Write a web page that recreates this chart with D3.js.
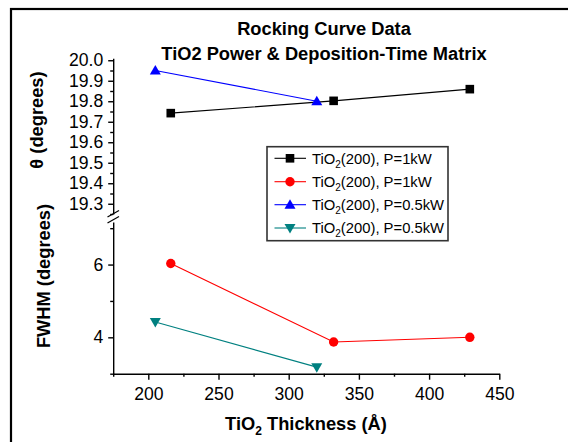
<!DOCTYPE html>
<html>
<head>
<meta charset="utf-8">
<script src="https://cdn.jsdelivr.net/npm/d3@7/dist/d3.min.js"></script>
<style>
  html, body { margin: 0; padding: 0; background: #fff; }
  svg { display: block; font-family: "Liberation Sans", Arial, sans-serif; }
</style>
</head>
<body>
<svg id="chart" width="568" height="442"></svg>
<script>
// Rocking-curve peak position (θ) and width (FWHM) versus TiO2 thickness
const thetaThick1kW = [216, 332, 429];
const theta1kW      = [19.742, 19.802, 19.859];
const thetaThick05kW = [205, 320];
const theta05kW      = [19.95, 19.80];
const fwhmThick1kW  = [216, 332, 429];
const fwhm1kW       = [6.03, 3.87, 4.00];
const fwhmThick05kW = [205, 320];
const fwhm05kW      = [4.42, 3.18];

const legendLabels = ["(200), P=1kW", "(200), P=1kW", "(200), P=0.5kW", "(200), P=0.5kW"];
const xTicks = [200, 250, 300, 350, 400, 450];
const xMinorTicks = [175, 225, 275, 325, 375, 425];
const thetaTicks = [19.3, 19.4, 19.5, 19.6, 19.7, 19.8, 19.9, 20.0];
const thetaMinorTicks = [19.25, 19.35, 19.45, 19.55, 19.65, 19.75, 19.85, 19.95];
const fwhmTicks = [4, 6];
const fwhmMinorTicks = [3, 5, 7];

const svg = d3.select("#chart");

// outer frame
svg.append("rect").attr("x", 11).attr("y", 9).attr("width", 620).attr("height", 500)
  .attr("fill", "none").attr("stroke", "#000").attr("stroke-width", 2.2);

const x = d3.scaleLinear().domain([175, 450]).range([113.2, 499.3]);
const yTop = d3.scaleLinear().domain([19.25, 20.01]).range([214, 58.2]);
const yBot = d3.scaleLinear().domain([3, 7.17]).range([373.7, 222]);

const axisStroke = 1.4;
const tickFont = 17.6;

function styleAxis(g) {
  g.select(".domain").attr("stroke", "#000").attr("stroke-width", axisStroke);
  g.selectAll(".tick line").attr("stroke", "#000").attr("stroke-width", axisStroke);
  g.selectAll(".tick text").attr("fill", "#000").style("font-size", tickFont + "px")
    .style("font-family", '"Liberation Sans", Arial, sans-serif');
}

// x axis
const axX = svg.append("g").attr("transform", "translate(0,373.7)")
  .call(d3.axisBottom(x).tickValues(xTicks).tickSize(6).tickPadding(8).tickSizeOuter(0).tickFormat(d3.format("d")));
styleAxis(axX);
const axXm = svg.append("g").attr("transform", "translate(0,373.7)")
  .call(d3.axisBottom(x).tickValues(xMinorTicks).tickSize(3).tickFormat("").tickSizeOuter(0));
styleAxis(axXm);
axXm.select(".domain").remove();

// θ axis (upper panel)
const axT = svg.append("g").attr("transform", "translate(113.2,0)")
  .call(d3.axisLeft(yTop).tickValues(thetaTicks).tickSize(5).tickPadding(5).tickSizeOuter(0).tickFormat(d3.format(".1f")));
styleAxis(axT);
const axTm = svg.append("g").attr("transform", "translate(113.2,0)")
  .call(d3.axisLeft(yTop).tickValues(thetaMinorTicks).tickSize(3).tickFormat("").tickSizeOuter(0));
styleAxis(axTm);
axTm.select(".domain").remove();

// FWHM axis (lower panel)
const axF = svg.append("g").attr("transform", "translate(113.2,0)")
  .call(d3.axisLeft(yBot).tickValues(fwhmTicks).tickSize(5).tickPadding(5).tickSizeOuter(0).tickFormat(d3.format("d")));
styleAxis(axF);
const axFm = svg.append("g").attr("transform", "translate(113.2,0)")
  .call(d3.axisLeft(yBot).tickValues(fwhmMinorTicks).tickSize(3).tickFormat("").tickSizeOuter(0));
styleAxis(axFm);
axFm.select(".domain").remove();

// axis break marks
const brk = svg.append("g").attr("stroke", "#000").attr("stroke-width", 1.2);
brk.append("line").attr("x1", 107.5).attr("y1", 217).attr("x2", 119).attr("y2", 210.5);
brk.append("line").attr("x1", 107.5).attr("y1", 223).attr("x2", 119).attr("y2", 216.5);

// markers
function marker(g, type, cx, cy, color) {
  if (type === "square") {
    g.append("rect").attr("x", cx - 4.3).attr("y", cy - 4.3).attr("width", 8.6).attr("height", 8.6).attr("fill", color);
  } else if (type === "circle") {
    g.append("circle").attr("cx", cx).attr("cy", cy).attr("r", 4.7).attr("fill", color);
  } else if (type === "up") {
    g.append("path").attr("d", `M${cx},${cy - 5.5}L${cx + 5.5},${cy + 4}L${cx - 5.5},${cy + 4}Z`).attr("fill", color);
  } else {
    g.append("path").attr("d", `M${cx},${cy + 5.5}L${cx + 5.5},${cy - 4}L${cx - 5.5},${cy - 4}Z`).attr("fill", color);
  }
}

const series = [
  { xs: thetaThick1kW, ys: theta1kW, y: yTop, color: "#000000", type: "square" },
  { xs: fwhmThick1kW, ys: fwhm1kW, y: yBot, color: "#ff0000", type: "circle" },
  { xs: thetaThick05kW, ys: theta05kW, y: yTop, color: "#0000ff", type: "up" },
  { xs: fwhmThick05kW, ys: fwhm05kW, y: yBot, color: "#008080", type: "down" }
];

const line = d3.line();
series.forEach(s => {
  const pts = s.xs.map((v, i) => [x(v), s.y(s.ys[i])]);
  svg.append("path").attr("d", line(pts)).attr("fill", "none").attr("stroke", s.color).attr("stroke-width", 1.1);
  const g = svg.append("g");
  pts.forEach(p => marker(g, s.type, p[0], p[1], s.color));
});

// legend
const lg = svg.append("g");
lg.append("rect").attr("x", 267).attr("y", 146.7).attr("width", 181).attr("height", 94)
  .attr("fill", "#fff").attr("stroke", "#333").attr("stroke-width", 1.6);
const legendY = [158.3, 181.7, 204.7, 228];
series.forEach((s, i) => {
  const yy = legendY[i];
  lg.append("line").attr("x1", 274.5).attr("x2", 306).attr("y1", yy).attr("y2", yy)
    .attr("stroke", s.color).attr("stroke-width", 1.1);
  marker(lg, s.type, 290, yy, s.color);
  const t = lg.append("text").attr("x", 312).attr("y", yy + 5.2).style("font-size", "14.8px");
  t.append("tspan").text("TiO");
  t.append("tspan").attr("dy", 4).style("font-size", "10px").text("2");
  t.append("tspan").attr("dy", -4).text(legendLabels[i]);
});

// titles
svg.append("text").attr("x", 324).attr("y", 35).attr("text-anchor", "middle")
  .style("font-size", "18.3px").style("font-weight", "bold").text("Rocking Curve Data");
svg.append("text").attr("x", 324).attr("y", 59.5).attr("text-anchor", "middle")
  .style("font-size", "18.3px").style("font-weight", "bold").text("TiO2 Power & Deposition-Time Matrix");

// x axis title
const xt = svg.append("text").attr("x", 306).attr("y", 430).attr("text-anchor", "middle")
  .style("font-size", "18.3px").style("font-weight", "bold");
xt.append("tspan").text("TiO");
xt.append("tspan").attr("dy", 5).style("font-size", "12px").text("2");
xt.append("tspan").attr("dy", -5).text(" Thickness (Å)");

// y axis titles
svg.append("text").attr("transform", "translate(43,120) rotate(-90)").attr("text-anchor", "middle")
  .style("font-size", "18.3px").style("font-weight", "bold").text("θ (degrees)");
svg.append("text").attr("transform", "translate(50,276) rotate(-90)").attr("text-anchor", "middle")
  .style("font-size", "18.3px").style("font-weight", "bold").text("FWHM (degrees)");
</script>
</body>
</html>
